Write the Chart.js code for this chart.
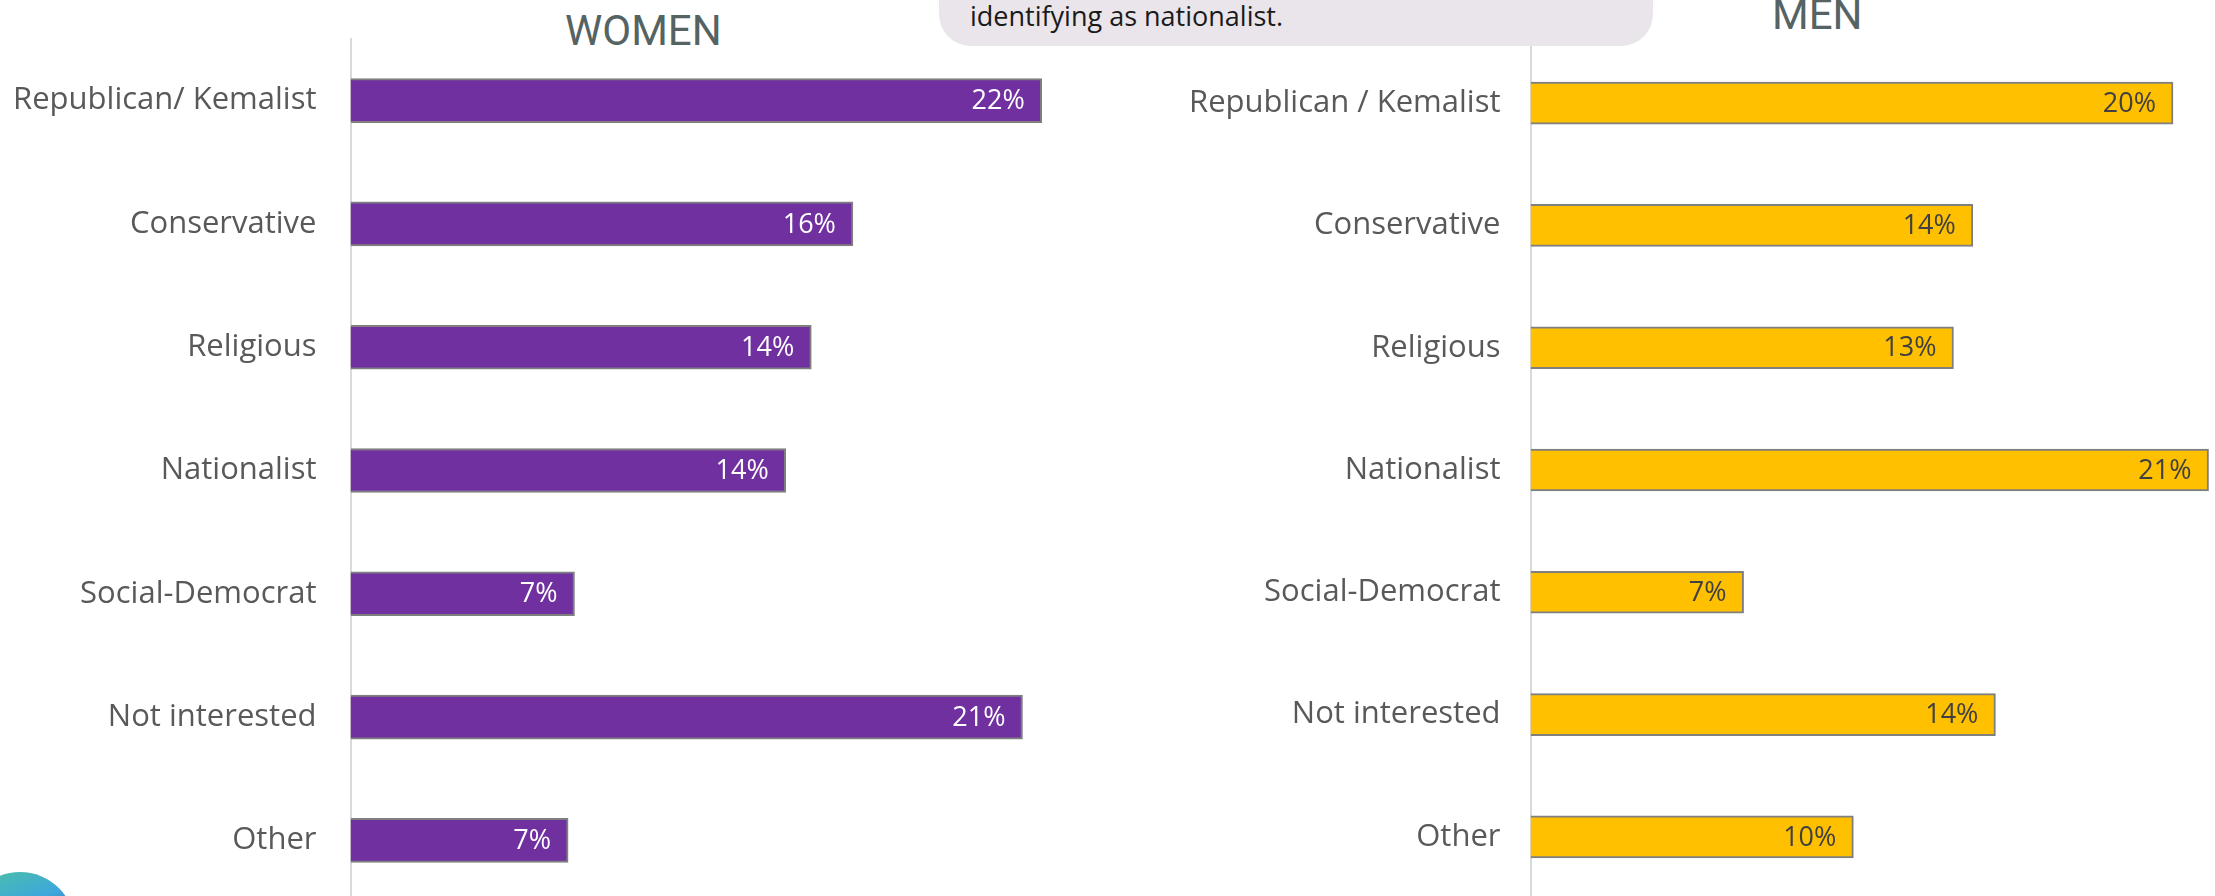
<!DOCTYPE html>
<html>
<head>
<meta charset="utf-8">
<script src="https://cdn.jsdelivr.net/npm/chart.js@4/dist/chart.umd.min.js"></script>
<style>
  html, body { margin: 0; padding: 0; background: #fff; }
  body { width: 2215px; height: 896px; position: relative; overflow: hidden; }
  canvas { position: absolute; top: 0; }
  #womenChart { left: 0; }
  #menChart { left: 1100px; }
  .title { position: absolute; font-family: Roboto, sans-serif; font-size: 42px; line-height: 42px; color: #556363; white-space: nowrap; }
  #callout { position: absolute; left: 939px; top: -40px; width: 714px; height: 86px; background: #e9e5ea; border-radius: 32px; z-index: 5; }
  #calloutText { position: absolute; left: 970px; top: 2px; font-family: "Open Sans", sans-serif; font-size: 27px; line-height: 27px; color: #1a1a1a; z-index: 6; white-space: nowrap; }
  #logo { position: absolute; left: -35px; top: 872px; width: 110px; height: 110px; border-radius: 50%;
          background: linear-gradient(160deg, #4cc3a0 0%, #3ea7dc 35%, #2f6fb8 55%, #8a8f99 70%); }
</style>
</head>
<body>
<div class="title" style="left:565px; top:10px;">WOMEN</div>
<div class="title" style="left:1772px; top:-6px;">MEN</div>
<div id="callout"></div>
<div id="calloutText">identifying as nationalist.</div>
<div id="logo"></div>
<canvas id="womenChart" width="1100" height="902"></canvas>
<canvas id="menChart" width="1115" height="898"></canvas>
<script>
const womenCategories = ['Republican/ Kemalist', 'Conservative', 'Religious', 'Nationalist', 'Social-Democrat', 'Not interested', 'Other'];
const menCategories = ['Republican / Kemalist', 'Conservative', 'Religious', 'Nationalist', 'Social-Democrat', 'Not interested', 'Other'];
const womenValues = [21.6, 15.7, 14.4, 13.6, 7.0, 21.0, 6.8];
const menValues = [19.9, 13.7, 13.1, 21.0, 6.6, 14.4, 10.0];

// draws the % value inside the end of each bar
const barLabels = {
    id: 'barLabels',
    afterDatasetsDraw(chart, args, opts) {
        const ctx = chart.ctx;
        const meta = chart.getDatasetMeta(0);
        const values = chart.data.datasets[0].data;
        ctx.save();
        ctx.font = '27px "Open Sans", sans-serif';
        ctx.fillStyle = opts.color;
        ctx.textAlign = 'right';
        ctx.textBaseline = 'middle';
        meta.data.forEach((bar, i) => {
            ctx.fillText(Math.round(values[i]) + '%', bar.x - 17, bar.y + 1);
        });
        ctx.restore();
    }
};

function makeChart(id, labels, values, color, textColor, axisWidth, xMax, padTop, padRight, thickness, tickPad) {
    return new Chart(document.getElementById(id), {
        type: 'bar',
        data: {
            labels: labels,
            datasets: [{
                data: values,
                backgroundColor: color,
                borderColor: '#7f7f7f',
                borderWidth: 2,
                barThickness: thickness
            }]
        },
        options: {
            indexAxis: 'y',
            responsive: false,
            animation: false,
            layout: { padding: { top: padTop, right: padRight, left: 0, bottom: 0 } },
            plugins: {
                legend: { display: false },
                tooltip: { enabled: false },
                barLabels: { color: textColor }
            },
            scales: {
                x: { display: false, min: 0, max: xMax },
                y: {
                    grid: { display: false, drawTicks: false },
                    border: { display: true, color: '#d9d9d9', width: 2 },
                    ticks: {
                        autoSkip: false,
                        padding: tickPad,
                        color: '#595959',
                        font: { family: '"Open Sans", sans-serif', size: 31 }
                    },
                    afterFit(axis) {
                        axis.width = axisWidth;
                        axis.paddingTop = 0;
                        axis.paddingBottom = 0;
                    }
                }
            }
        },
        plugins: [barLabels]
    });
}

makeChart('womenChart', womenCategories, womenValues, '#7030a0', '#ffffff', 350.5, 23, 39, 13.5, 44, 34);
makeChart('menChart', menCategories, menValues, '#ffc000', '#404040', 430.5, 21.2, 42, 0, 42, 30);
</script>
</body>
</html>
